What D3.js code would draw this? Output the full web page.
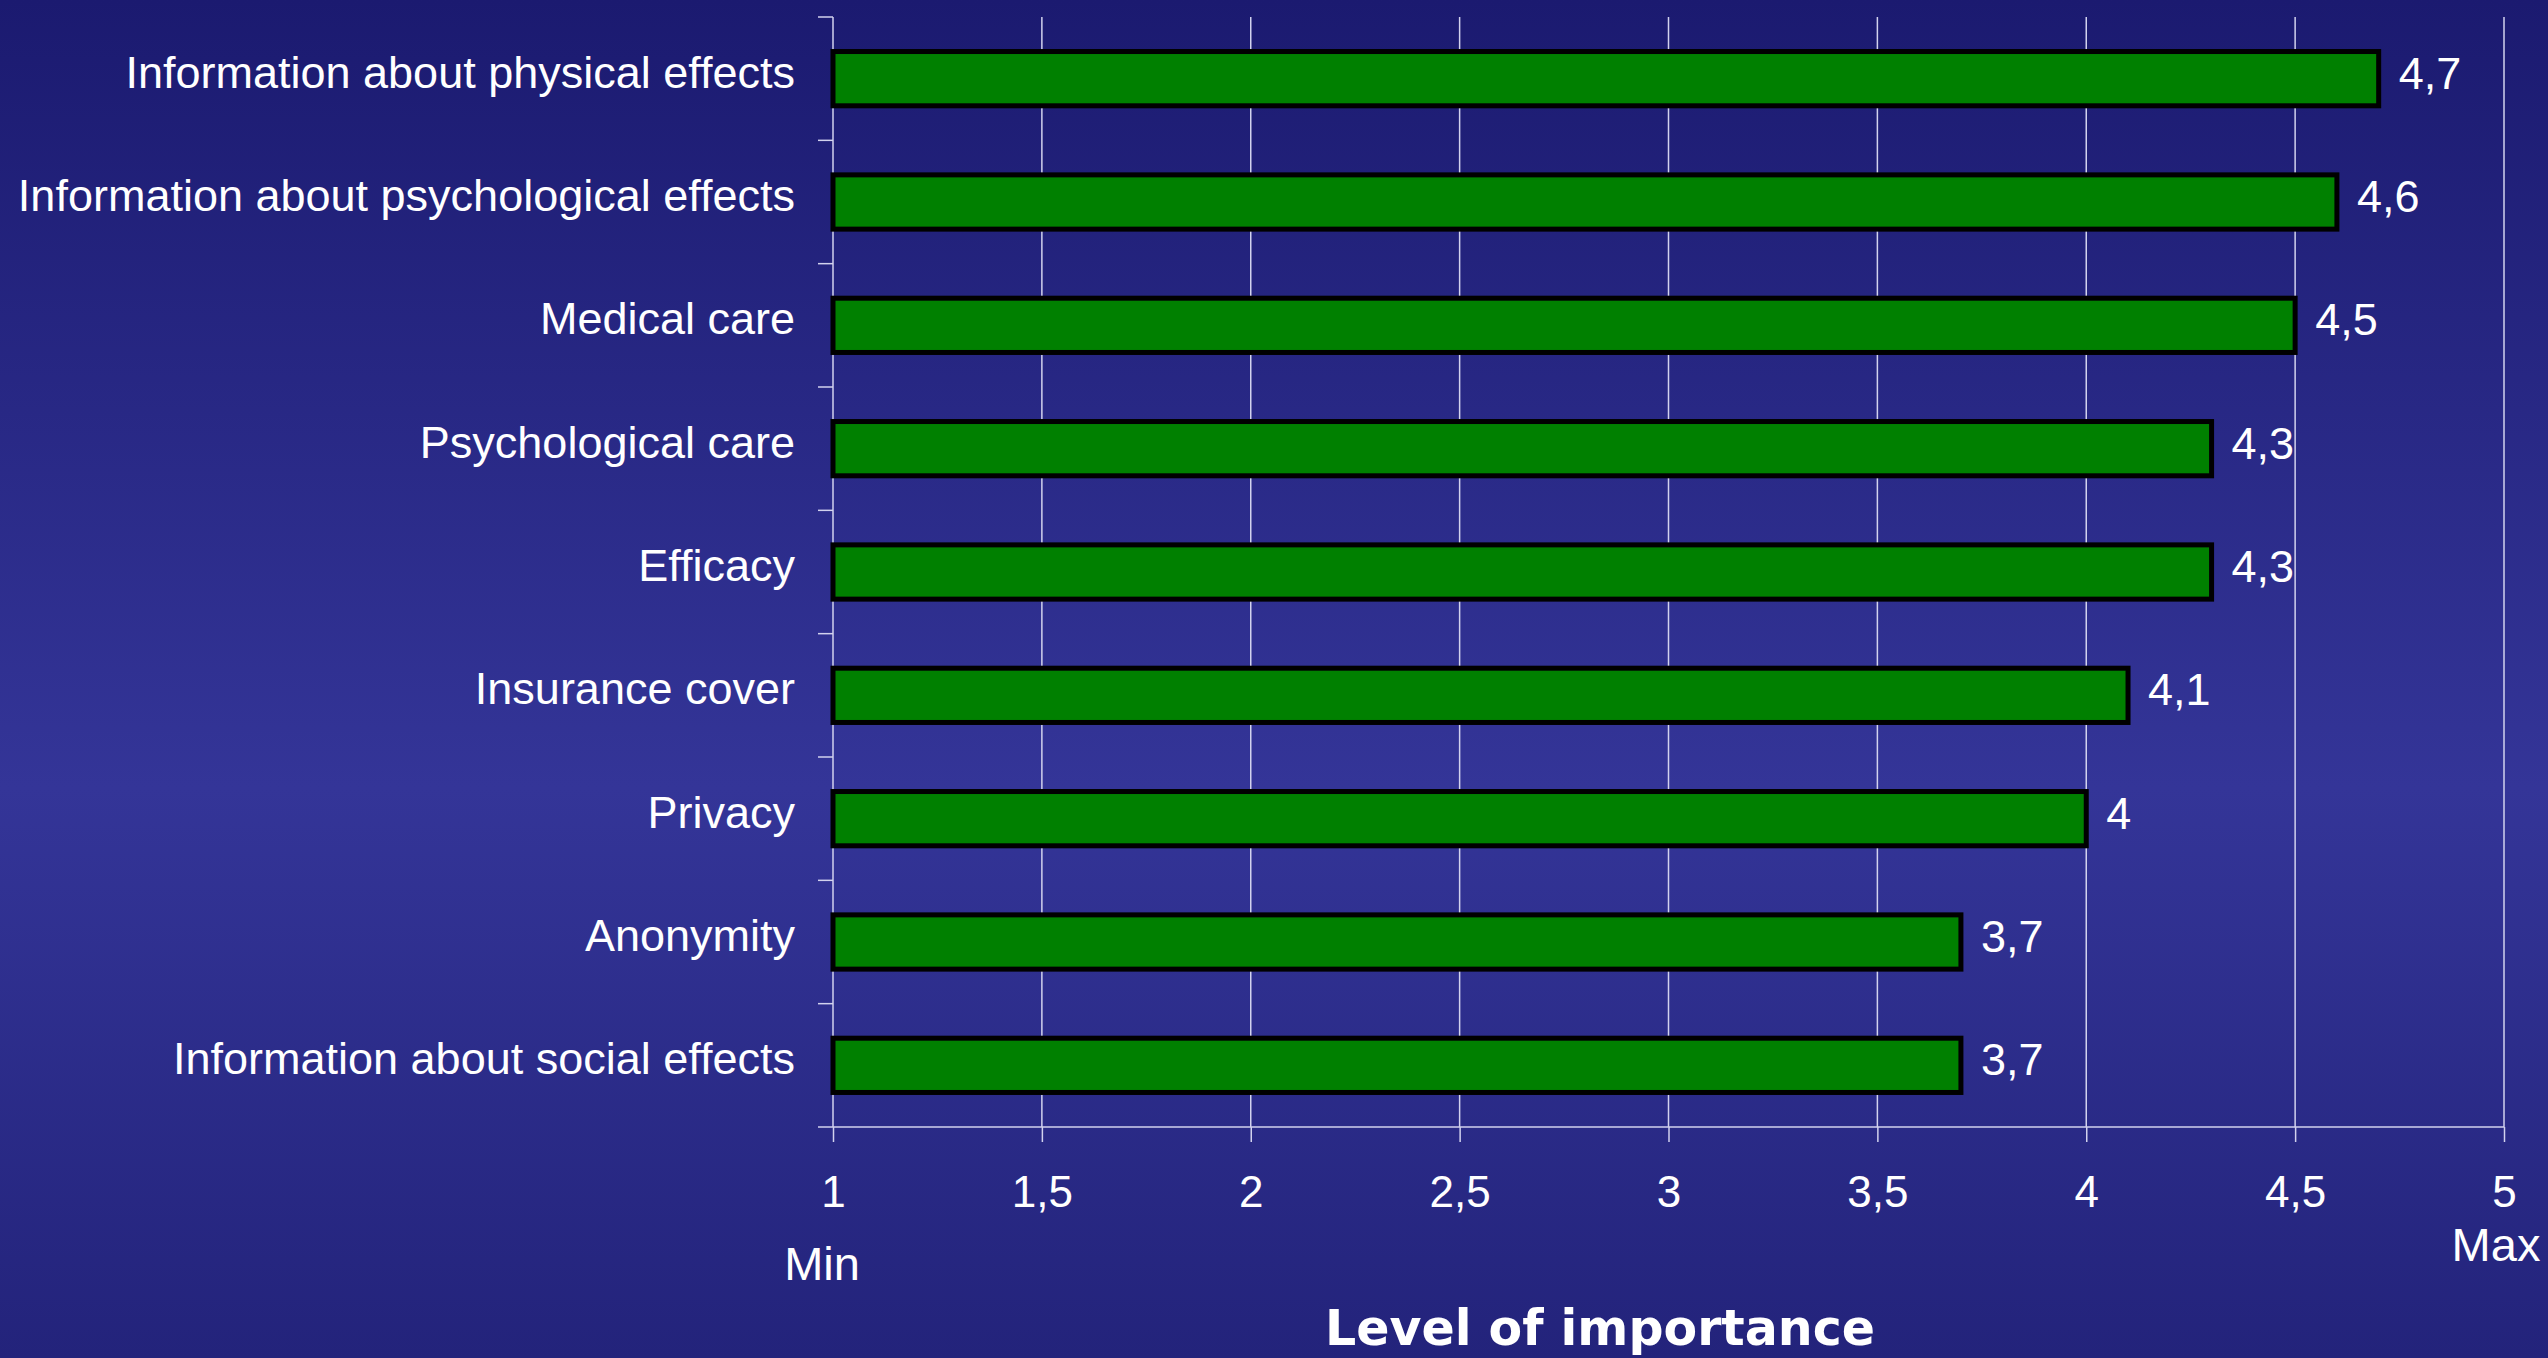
<!DOCTYPE html>
<html>
<head>
<meta charset="utf-8">
<script src="https://cdn.jsdelivr.net/npm/d3@7"></script>
<style>
  html, body { margin: 0; padding: 0; background: #23237a; }
  svg { display: block; }
</style>
</head>
<body>
<script>
const categories = [
  "Information about physical effects",
  "Information about psychological effects",
  "Medical care",
  "Psychological care",
  "Efficacy",
  "Insurance cover",
  "Privacy",
  "Anonymity",
  "Information about social effects"
];
const values = [4.7, 4.6, 4.5, 4.3, 4.3, 4.1, 4.0, 3.7, 3.7];
const tickValues = [1, 1.5, 2, 2.5, 3, 3.5, 4, 4.5, 5];
const xDomain = [1, 5];
const minLabel = "Min";
const maxLabel = "Max";
const axisTitle = "Level of importance";

(function () {
const W = 2548, H = 1358;
const fmt = v => String(v).replace(".", ",");

const svg = d3.select("body").append("svg").attr("width", W).attr("height", H);

const defs = svg.append("defs");
const grad = defs.append("linearGradient").attr("id", "bg").attr("x1", 0).attr("y1", 0).attr("x2", 0).attr("y2", 1);
grad.append("stop").attr("offset", "0%").attr("stop-color", "#1b1a70");
grad.append("stop").attr("offset", "58%").attr("stop-color", "#343598");
grad.append("stop").attr("offset", "100%").attr("stop-color", "#23237b");
svg.append("rect").attr("width", W).attr("height", H).attr("fill", "url(#bg)");

const pLeft = 833, pRight = 2504, pTop = 17, pBottom = 1127;
const x = d3.scaleLinear().domain(xDomain).range([pLeft, pRight]);
const y = d3.scaleBand().domain(categories).range([pTop, pBottom]).padding(0);

const lineColor = "#d2d2ee";
const font = "'Liberation Sans', Arial, sans-serif";

// vertical gridlines
svg.append("g").selectAll("line").data(tickValues.slice(1)).join("line")
  .attr("x1", d => x(d)).attr("x2", d => x(d))
  .attr("y1", pTop).attr("y2", pBottom)
  .attr("stroke", lineColor).attr("stroke-width", 1.5);

// x axis
const xAxis = d3.axisBottom(x).tickValues(tickValues).tickSize(15).tickFormat(fmt);
const gx = svg.append("g").attr("transform", `translate(0,${pBottom})`).call(xAxis);
gx.select(".domain").remove();
gx.append("line").attr("x1", pLeft - 15).attr("x2", pRight).attr("y1", 0).attr("y2", 0)
  .attr("stroke", lineColor).attr("stroke-width", 1.5);
gx.selectAll(".tick line").attr("stroke", lineColor).attr("stroke-width", 1.5);
gx.selectAll(".tick text")
  .attr("y", 80).attr("dy", 0)
  .attr("fill", "#ffffff").attr("font-family", font).attr("font-size", 44);

// y axis line + ticks at band boundaries
const boundaries = categories.map(c => y(c));
svg.append("line").attr("x1", pLeft).attr("x2", pLeft).attr("y1", pTop).attr("y2", pBottom)
  .attr("stroke", lineColor).attr("stroke-width", 1.5);
svg.append("g").selectAll("line").data(boundaries).join("line")
  .attr("x1", pLeft - 15).attr("x2", pLeft).attr("y1", d => d).attr("y2", d => d)
  .attr("stroke", lineColor).attr("stroke-width", 1.5);

// category labels
svg.append("g").selectAll("text").data(categories).join("text")
  .attr("x", 795).attr("y", d => y(d) + y.bandwidth() / 2 + 9)
  .attr("text-anchor", "end")
  .attr("fill", "#ffffff").attr("font-family", font).attr("font-size", 45)
  .text(d => d);

// bars
const barH = y.bandwidth() * 0.44;
svg.append("g").selectAll("rect").data(values).join("rect")
  .attr("x", x(xDomain[0]))
  .attr("y", (d, i) => y(categories[i]) + y.bandwidth() / 2 - barH / 2)
  .attr("width", d => x(d) - x(xDomain[0]))
  .attr("height", barH)
  .attr("fill", "#008000").attr("stroke", "#000000").attr("stroke-width", 5);

// value labels
svg.append("g").selectAll("text").data(values).join("text")
  .attr("x", d => x(d) + 20)
  .attr("y", (d, i) => y(categories[i]) + y.bandwidth() / 2 + 10)
  .attr("fill", "#ffffff").attr("font-family", font).attr("font-size", 45)
  .text(d => fmt(d));

// Min / Max
svg.append("text").attr("x", x(xDomain[0]) - 11).attr("y", 1280)
  .attr("text-anchor", "middle").attr("fill", "#ffffff")
  .attr("font-family", font).attr("font-size", 47).text(minLabel);
svg.append("text").attr("x", x(xDomain[1]) - 8).attr("y", 1261)
  .attr("text-anchor", "middle").attr("fill", "#ffffff")
  .attr("font-family", font).attr("font-size", 47).text(maxLabel);

// axis title
svg.append("text").attr("x", 1600).attr("y", 1345)
  .attr("text-anchor", "middle").attr("fill", "#ffffff")
  .attr("font-family", "'DejaVu Sans', Verdana, sans-serif").attr("font-weight", "bold")
  .attr("font-size", 49).text(axisTitle);
})();
</script>
</body>
</html>
